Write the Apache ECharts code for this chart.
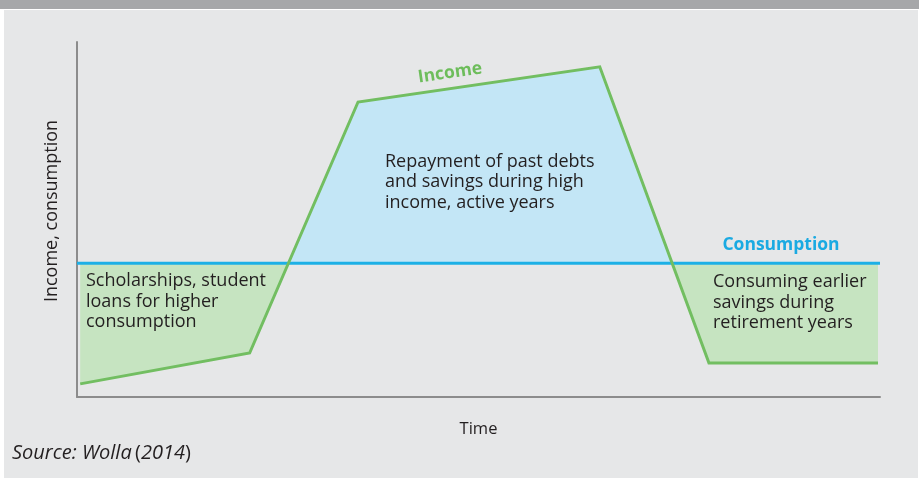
<!DOCTYPE html>
<html>
<head>
<meta charset="utf-8">
<script src="https://cdn.jsdelivr.net/npm/echarts@6/dist/echarts.min.js"></script>
<style>
html,body{margin:0;padding:0;background:#ffffff;}
#chart{width:919px;height:478px;}
</style>
</head>
<body>
<div id="chart"></div>
<script>
// Time positions (0..100) and income levels (0..100)
const timeX = [0.4, 21.5, 35.0, 65.1, 78.7, 99.75];
const incomeY = [3.7, 12.4, 83.1, 93.0, 9.6, 9.6];
// Constant consumption level
const consumptionX = [0, 100];
const consumptionY = [37.7, 37.7];

const incomeData = timeX.map((x, i) => [x, incomeY[i]]);
const consumptionData = consumptionX.map((x, i) => [x, consumptionY[i]]);

// Split the area between income and consumption into regions (above / below)
function buildRegions() {
  const C = consumptionY[0];
  const polys = [];
  let cur = [[timeX[0], C], [timeX[0], incomeY[0]]];
  let sign = incomeY[0] >= C;
  for (let i = 1; i < timeX.length; i++) {
    const x0 = timeX[i - 1], y0 = incomeY[i - 1];
    const x1 = timeX[i], y1 = incomeY[i];
    const s1 = y1 >= C;
    if (s1 !== sign) {
      const t = (C - y0) / (y1 - y0);
      const xc = x0 + t * (x1 - x0);
      cur.push([xc, C]);
      polys.push({ pts: cur, above: sign });
      cur = [[xc, C]];
      sign = s1;
    }
    cur.push([x1, y1]);
  }
  cur.push([timeX[timeX.length - 1], C]);
  polys.push({ pts: cur, above: sign });
  return polys;
}
const regions = buildRegions();

const FONT = '"Open Sans", "Noto Sans", sans-serif';
const TXT = '#231f20';

const chart = echarts.init(document.getElementById('chart'), null, { renderer: 'canvas' });

chart.setOption({
  animation: false,
  backgroundColor: '#e6e7e8',
  grid: { left: 77, top: 42, right: 39, bottom: 81, containLabel: false },
  xAxis: {
    type: 'value', min: 0, max: 100,
    name: 'Time', nameLocation: 'middle', nameGap: 24,
    nameTextStyle: { color: TXT, fontSize: 16.5, fontFamily: FONT },
    axisLine: { show: true, lineStyle: { color: '#8c8c8c', width: 2 } },
    axisTick: { show: false }, axisLabel: { show: false }, splitLine: { show: false }
  },
  yAxis: {
    type: 'value', min: 0, max: 100,
    axisLine: { show: true, lineStyle: { color: '#8c8c8c', width: 2 } },
    axisTick: { show: false }, axisLabel: { show: false }, splitLine: { show: false }
  },
  series: [
    {
      type: 'custom',
      z: 1,
      silent: true,
      data: regions.map(r => r.pts[0]),
      renderItem: function (params, api) {
        const r = regions[params.dataIndex];
        return {
          type: 'polygon',
          shape: { points: r.pts.map(p => api.coord(p)) },
          style: { fill: r.above ? '#c3e6f6' : '#c6e4c1' }
        };
      }
    },
    {
      name: 'Consumption',
      type: 'line', z: 3,
      data: consumptionData,
      showSymbol: false,
      lineStyle: { color: '#1cb0e6', width: 3 }
    },
    {
      name: 'Income',
      type: 'line', z: 4,
      data: incomeData,
      showSymbol: false,
      lineStyle: { color: '#72be61', width: 3, join: 'miter' }
    }
  ],
  graphic: [
    { type: 'rect', z: 0, shape: { x: 0, y: 0, width: 919, height: 9 }, style: { fill: '#a6a7a9' } },
    { type: 'rect', z: 0, shape: { x: 0, y: 9, width: 919, height: 1 }, style: { fill: '#ffffff' } },
    { type: 'rect', z: 0, shape: { x: 0, y: 10, width: 4, height: 468 }, style: { fill: '#ffffff' } },
    { type: 'rect', z: 0, shape: { x: 918, y: 10, width: 1, height: 468 }, style: { fill: '#ffffff' } },
    {
      type: 'text', z: 100, x: 52, y: 211, rotation: Math.PI / 2,
      style: { text: 'Income, consumption', fill: TXT, font: '18px ' + FONT, align: 'center', verticalAlign: 'middle' }
    },
    {
      type: 'text', z: 100, x: 450, y: 73, rotation: 8.2 * Math.PI / 180,
      style: { text: 'Income', fill: '#6dbd5b', font: 'bold 17.5px ' + FONT, align: 'center', verticalAlign: 'middle' }
    },
    {
      type: 'text', z: 100, x: 781, y: 245,
      style: { text: 'Consumption', fill: '#1aaae2', font: 'bold 17.5px ' + FONT, align: 'center', verticalAlign: 'middle' }
    },
    {
      type: 'text', z: 100, x: 385, y: 151.5,
      style: { text: 'Repayment of past debts\nand savings during high\nincome, active years', fill: TXT, font: '18px ' + FONT, lineHeight: 20.5, align: 'left', verticalAlign: 'top' }
    },
    {
      type: 'text', z: 100, x: 86, y: 271,
      style: { text: 'Scholarships, student\nloans for higher\nconsumption', fill: TXT, font: '18px ' + FONT, lineHeight: 20.5, align: 'left', verticalAlign: 'top' }
    },
    {
      type: 'text', z: 100, x: 713, y: 272,
      style: { text: 'Consuming earlier\nsavings during\nretirement years', fill: TXT, font: '18px ' + FONT, lineHeight: 20.5, align: 'left', verticalAlign: 'top' }
    },
    {
      type: 'text', z: 100, x: 12, y: 453,
      style: {
        text: '{i|Source: Wolla} {n|(}{i|2014}{n|)}',
        verticalAlign: 'middle', align: 'left',
        rich: {
          i: { fontFamily: FONT, fontSize: 20, fontStyle: 'italic', fill: TXT, color: TXT },
          n: { fontFamily: FONT, fontSize: 20, fill: TXT, color: TXT }
        }
      }
    }
  ]
});
</script>
</body>
</html>
